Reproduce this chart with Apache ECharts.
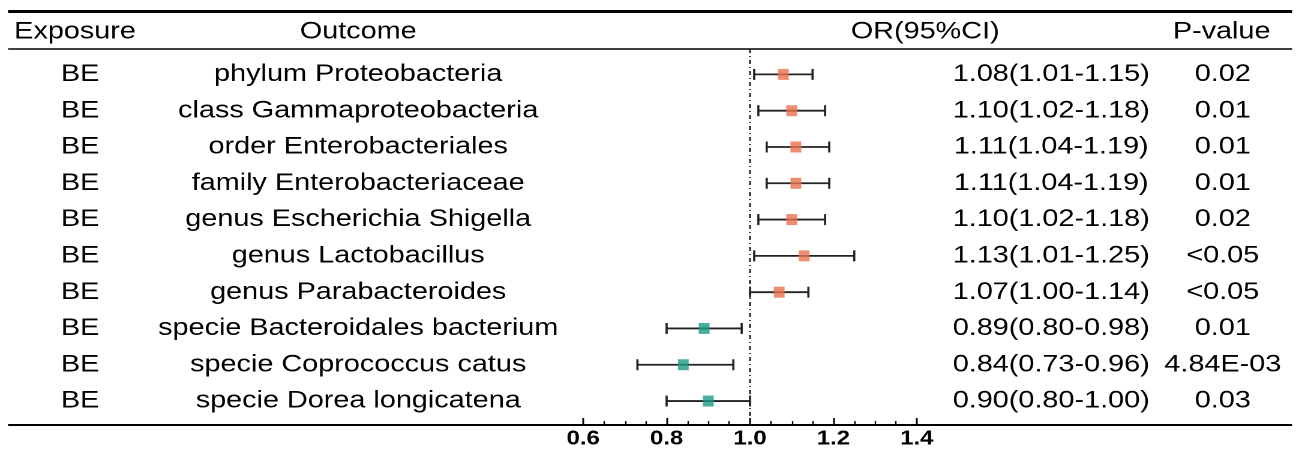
<!DOCTYPE html>
<html>
<head>
<meta charset="utf-8">
<script src="https://cdn.jsdelivr.net/npm/echarts@6/dist/echarts.min.js"></script>
<style>
  html, body { margin: 0; padding: 0; background: #fff; overflow: hidden; }
  /* the reference is a horizontally stretched picture, so the chart is drawn narrow and stretched */
  #main { width: 1080px; height: 456px; transform: scaleX(1.2); transform-origin: 0 0; }
</style>
</head>
<body>
<div id="main"></div>
<script>
  const headers = ['Exposure', 'Outcome', 'OR(95%CI)', 'P-value']
  const exposure = ['BE', 'BE', 'BE', 'BE', 'BE', 'BE', 'BE', 'BE', 'BE', 'BE']
  const outcomes = [
    'phylum Proteobacteria',
    'class Gammaproteobacteria',
    'order Enterobacteriales',
    'family Enterobacteriaceae',
    'genus Escherichia Shigella',
    'genus Lactobacillus',
    'genus Parabacteroides',
    'specie Bacteroidales bacterium',
    'specie Coprococcus catus',
    'specie Dorea longicatena'
  ]
  const orValue = [1.08, 1.10, 1.11, 1.11, 1.10, 1.13, 1.07, 0.89, 0.84, 0.90]
  const ciLower = [1.01, 1.02, 1.04, 1.04, 1.02, 1.01, 1.00, 0.80, 0.73, 0.80]
  const ciUpper = [1.15, 1.18, 1.19, 1.19, 1.18, 1.25, 1.14, 0.98, 0.96, 1.00]
  const pValues = ['0.02', '0.01', '0.01', '0.01', '0.02', '<0.05', '<0.05', '0.01', '4.84E-03', '0.03']
  const xMin = 0.6
  const xMax = 1.4
  const xStep = 0.2

  const font = '"Liberation Sans", Arial, sans-serif'
  const riskColor = '#E8714F'
  const protectColor = '#1D9A87'

  // column centres (unstretched px)
  const colExposure = 66.7
  const colOutcome = 298.5
  const colOR = 876
  const colP = 1019

  const rows = outcomes.map((d, i) => i)
  const orText = rows.map(i => orValue[i].toFixed(2) + '(' + ciLower[i].toFixed(2) + '-' + ciUpper[i].toFixed(2) + ')')

  let myChart = echarts.init(document.getElementById('main'), null, { devicePixelRatio: 2 })

  const headerText = (text, x) => ({
    type: 'text',
    x: x,
    y: 32,
    style: { text: text, font: '24px ' + font, fill: '#000', textAlign: 'center', textVerticalAlign: 'middle' }
  })

  myChart.setOption({
    animation: false,
    grid: { left: 486, right: 316, top: 49, bottom: 31, containLabel: false },
    xAxis: {
      type: 'value',
      min: xMin,
      max: xMax,
      interval: xStep,
      axisLine: { show: false, onZero: false },
      axisTick: { show: true, inside: true, length: 7, lineStyle: { color: '#000', width: 1.5 } },
      minorTick: { show: true, splitNumber: 4, length: 4, lineStyle: { color: '#000', width: 1.2 } },
      splitLine: { show: false },
      axisLabel: {
        margin: 4,
        color: '#000',
        fontFamily: font,
        fontWeight: 'bold',
        fontSize: 20,
        formatter: v => v.toFixed(1)
      }
    },
    yAxis: {
      type: 'value',
      inverse: true,
      min: -0.7,
      max: 9.66,
      show: false
    },
    graphic: [
      { type: 'line', shape: { x1: 6.7, y1: 11.5, x2: 1076.7, y2: 11.5 }, style: { stroke: '#000', lineWidth: 3 } },
      { type: 'line', shape: { x1: 6.7, y1: 49, x2: 1076.7, y2: 49 }, style: { stroke: '#000', lineWidth: 1.5 } },
      { type: 'line', shape: { x1: 6.7, y1: 425, x2: 1076.7, y2: 425 }, style: { stroke: '#000', lineWidth: 2 } },
      headerText(headers[0], 62.5),
      headerText(headers[1], 298.5),
      headerText(headers[2], 771),
      headerText(headers[3], 1018)
    ],
    series: [
      {
        // table text columns
        type: 'custom',
        data: rows.map(i => [1, i]),
        encode: { x: 0, y: 1 },
        silent: true,
        renderItem (params, api) {
          const i = api.value(1)
          const y = api.coord([1, i])[1]
          const txt = (text, x) => ({
            type: 'text',
            x: x,
            y: y,
            style: { text: text, font: '24px ' + font, fill: '#000', textAlign: 'center', textVerticalAlign: 'middle' }
          })
          return {
            type: 'group',
            children: [
              txt(exposure[i], colExposure),
              txt(outcomes[i], colOutcome),
              txt(orText[i], colOR),
              txt(pValues[i], colP)
            ]
          }
        }
      },
      {
        // confidence intervals
        type: 'custom',
        data: rows.map(i => [ciLower[i], ciUpper[i], i]),
        encode: { x: [0, 1], y: 2 },
        silent: true,
        renderItem (params, api) {
          const lo = api.coord([api.value(0), api.value(2)])
          const hi = api.coord([api.value(1), api.value(2)])
          const h = 5.5
          const st = { stroke: '#222', lineWidth: 1.8 }
          return {
            type: 'group',
            children: [
              { type: 'line', shape: { x1: lo[0], y1: lo[1], x2: hi[0], y2: hi[1] }, style: st },
              { type: 'line', shape: { x1: lo[0], y1: lo[1] - h, x2: lo[0], y2: lo[1] + h }, style: st },
              { type: 'line', shape: { x1: hi[0], y1: hi[1] - h, x2: hi[0], y2: hi[1] + h }, style: st }
            ]
          }
        }
      },
      {
        type: 'scatter',
        symbol: 'rect',
        symbolSize: [9, 11],
        data: rows.map(i => [orValue[i], i]),
        itemStyle: {
          color: p => (p.value[0] >= 1 ? riskColor : protectColor)
        },
        z: 5,
        markLine: {
          silent: true,
          symbol: 'none',
          label: { show: false },
          lineStyle: { color: '#222', width: 1.5, type: [4, 3, 1, 3] },
          data: [{ xAxis: 1 }]
        }
      }
    ]
  })
</script>
</body>
</html>
